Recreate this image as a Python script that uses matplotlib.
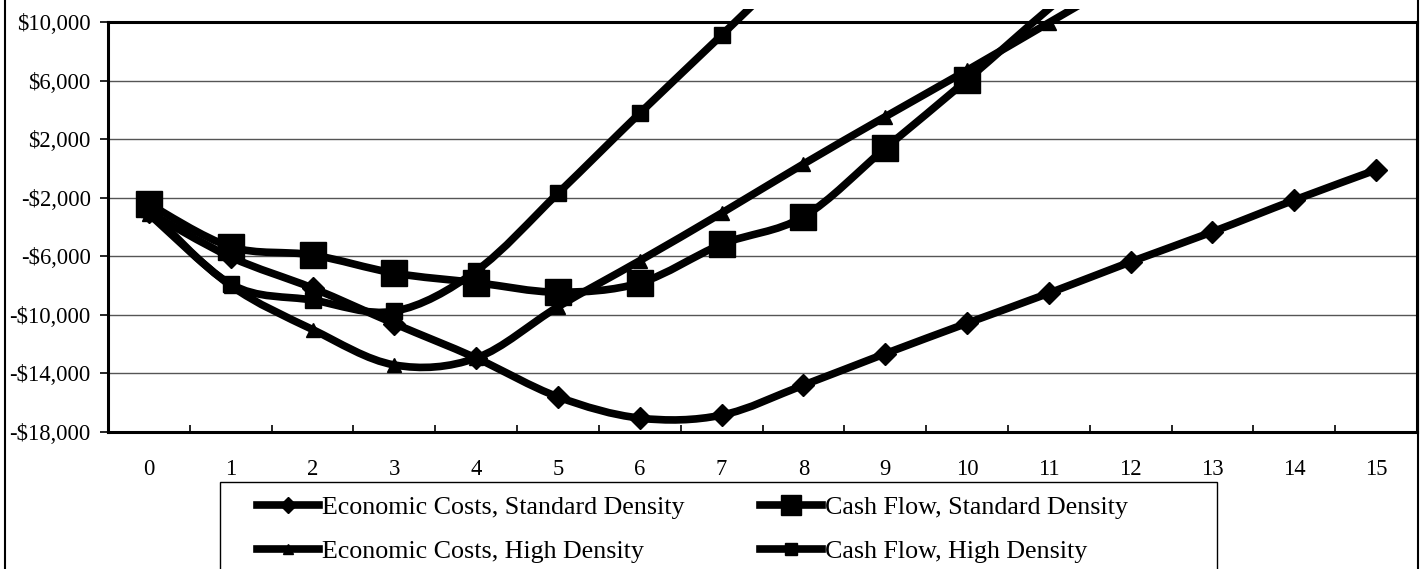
import matplotlib

matplotlib.use("Agg")
import matplotlib.pyplot as plt
from matplotlib.lines import Line2D
from matplotlib.patches import PathPatch, Rectangle
from matplotlib.path import Path
from matplotlib.ticker import FixedLocator, FuncFormatter

plt.rcParams["font.family"] = ["Liberation Serif", "DejaVu Serif"]

YEARS = list(range(16))
ECON_STANDARD = [-3000, -6050, -8170, -10600, -12950, -15600, -17050, -16850,
                 -14800, -12650, -10570, -8520, -6380, -4330, -2160, -100]
CASH_STANDARD = [-2430, -5350, -5910, -7150, -7800, -8450, -7820, -5180,
                 -3300, 1380, 6040, 10900, 15500]
ECON_HIGH = [-3100, -8000, -11000, -13420, -12950, -9450, -6300, -3050,
             300, 3530, 6700, 9950, 13200]
CASH_HIGH = [-2800, -7900, -8990, -9750, -7000, -1700, 3770, 9100, 14500]

# label, values, marker, marker size (pt)
SERIES = [
    ("Economic Costs, Standard Density", ECON_STANDARD, "D", 11.5),
    ("Cash Flow, Standard Density", CASH_STANDARD, "s", 18.5),
    ("Economic Costs, High Density", ECON_HIGH, "^", 10),
    ("Cash Flow, High Density", CASH_HIGH, "s", 11),
]

W, H = 1422, 569


def smooth_path(xs, ys):
    """Bezier path through the points, like Excel's smoothed line."""
    pts = list(zip(xs, ys))
    verts = [pts[0]]
    codes = [Path.MOVETO]
    n = len(pts)
    for i in range(n - 1):
        p0 = pts[max(i - 1, 0)]
        p1 = pts[i]
        p2 = pts[i + 1]
        p3 = pts[min(i + 2, n - 1)]
        c1 = (p1[0] + (p2[0] - p0[0]) / 6, p1[1] + (p2[1] - p0[1]) / 6)
        c2 = (p2[0] - (p3[0] - p1[0]) / 6, p2[1] - (p3[1] - p1[1]) / 6)
        verts += [c1, c2, p2]
        codes += [Path.CURVE4] * 3
    return Path(verts, codes)


fig = plt.figure(figsize=(W / 100, H / 100), dpi=100)
ax = fig.add_axes([108 / W, (H - 432) / H, (1417 - 108) / W, 410 / H])

# lines run a little above the plot area, up to the edge of the chart
clip = Rectangle((0, 0), 1, (432 - 9) / 410, transform=ax.transAxes)

for label, values, marker, ms in SERIES:
    xs = YEARS[: len(values)]
    patch = PathPatch(smooth_path(xs, values), fill=False, edgecolor="black",
                      lw=5.5, capstyle="round", joinstyle="round",
                      transform=ax.transData, zorder=3)
    ax.add_patch(patch)
    patch.set_clip_path(clip)
    ax.plot(xs, values, ls="none", marker=marker, ms=ms, color="black",
            zorder=4)

ax.set_xlim(-0.5, 15.5)
ax.set_ylim(-18000, 10000)

ax.yaxis.set_major_locator(FixedLocator(range(-18000, 10001, 4000)))
ax.yaxis.set_major_formatter(
    FuncFormatter(lambda v, _: f"-${-v:,.0f}" if v < 0 else f"${v:,.0f}"))
ax.tick_params(axis="y", direction="out", length=6, width=1.2,
               labelsize=16.3, pad=6.5)

ax.xaxis.set_major_locator(FixedLocator([y + 0.5 for y in YEARS[:-1]]))
ax.xaxis.set_minor_locator(FixedLocator(YEARS))
ax.xaxis.set_major_formatter(FuncFormatter(lambda v, _: ""))
ax.xaxis.set_minor_formatter(FuncFormatter(lambda v, _: f"{v:.0f}"))
ax.tick_params(axis="x", which="major", direction="in", length=5, width=1.2)
ax.tick_params(axis="x", which="minor", length=0, labelsize=16.3, pad=19.5)

ax.grid(axis="y", color="#555555", lw=1.0)
ax.set_axisbelow(True)
for spine in ax.spines.values():
    spine.set_linewidth(2.2)
    spine.set_color("black")

# legend fills column by column: left column economic, right column cash
order = [0, 2, 1, 3]
handles = [
    Line2D([], [], color="black", lw=5.5, marker=SERIES[i][2],
           ms=SERIES[i][3] * 0.75)
    for i in order
]
labels = [SERIES[i][0] for i in order]
fig.legend(handles, labels, ncol=2, loc="upper left",
           bbox_to_anchor=(257 / W, 1 - 496 / H), frameon=False,
           fontsize=18.7, handlelength=2.4, handletextpad=0.1,
           columnspacing=2.9, labelspacing=0.78, borderpad=0,
           borderaxespad=0)
fig.add_artist(Rectangle((220 / W, -0.1), (1217 - 220) / W,
                         (H - 482) / H + 0.1, transform=fig.transFigure,
                         fill=False, lw=1.0, edgecolor="black"))

# chart frame, left and right edges
for fx in (5 / W, 1418 / W):
    fig.add_artist(Line2D([fx, fx], [0, 1], transform=fig.transFigure,
                          color="black", lw=1.5))

fig.savefig("out.png", dpi=100)
